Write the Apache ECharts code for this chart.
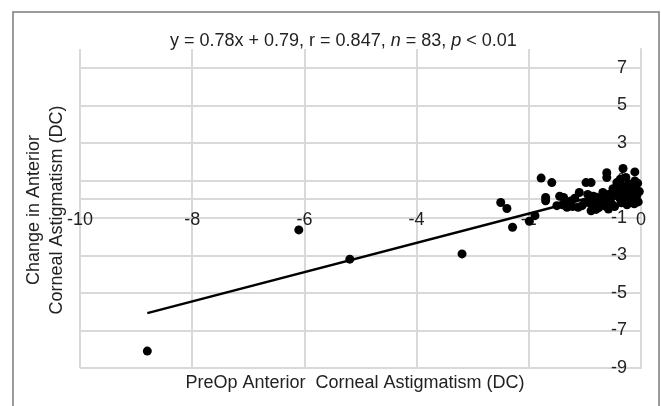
<!DOCTYPE html>
<html>
<head>
<meta charset="utf-8">
<script src="https://cdn.jsdelivr.net/npm/echarts@6/dist/echarts.min.js"></script>
<style>
  html, body { margin: 0; padding: 0; background: #fff; }
  #chart { width: 661px; height: 406px; }
</style>
</head>
<body>
<div id="chart"></div>
<script>
const preOpAstig = [
  -8.8, -6.1, -5.19, -3.19, -2.5, -2.39, -2.29, -1.99, -1.89, -1.78,
  -1.59, -1.7, -1.7, -1.38, -1.33, -1.32, -1.25, -1.22, -1.1, -1.12,
  -0.98, -0.89, -1.0, -0.89, -0.91, -0.85, -0.8, -0.78, -0.75, -0.73,
  -0.7, -0.67, -0.65, -0.62, -0.61, -0.61, -0.58, -0.55, -0.52, -0.49,
  -0.47, -0.45, -0.43, -0.4, -0.38, -0.37, -0.37, -0.35, -0.34, -0.32,
  -0.3, -0.27, -0.26, -0.25, -0.23, -0.2, -0.18, -0.17, -0.15, -0.12,
  -0.11, -0.11, -0.1, -0.08, -0.05, -0.03, -1.5, -1.45, -1.18, -1.05,
  -0.95, -0.92, -0.85, -0.68, -0.58, -0.5, -0.42, -0.28, -0.22, -0.14,
  -0.06, -1.4, -0.8
]
const changeAstig = [
  -8.1, -1.64, -3.2, -2.92, -0.18, -0.5, -1.5, -1.18, -0.88, 1.12,
  0.88, 0.09, -0.09, 0.09, -0.2, -0.44, -0.1, -0.4, 0.35, -0.44,
  0.88, 0.88, -0.18, -0.62, 0.0, -0.3, 0.1, -0.2, -0.45, 0.05,
  -0.3, -0.18, 0.2, -0.4, 1.41, 1.15, -0.53, 0.0, -0.25, 0.18,
  -0.4, 0.45, 0.88, 0.53, 0.1, 0.0, 1.06, -0.2, 0.71, 1.63,
  0.3, 1.15, 0.09, -0.3, 0.35, 0.6, -0.1, 0.0, 0.2, -0.25,
  1.45, 0.97, 0.5, 0.15, -0.15, 0.4, -0.35, 0.15, 0.05, -0.35,
  0.25, -0.2, 0.15, 0.35, 0.25, 0.55, 0.2, -0.1, 0.8, 0.7,
  0.85, -0.3, -0.55
]

// fit reported on the chart
const slope = 0.78
const intercept = 0.79
const rValue = 0.847
const pLabel = '< 0.01'

const xTicks = { min: -10, max: 0, interval: 2 }
const yTicks = { min: -9, max: 8, interval: 2 }

const FONT = 'Liberation Sans, Arial, sans-serif'
const TEXT = '#222'
const GRID = '#d9d9d9'
const GRID_BOX = { left: 80, right: 20, top: 49, bottom: 38 }
const CHART_H = 406

const points = preOpAstig.map((x, i) => [x, changeAstig[i]])
const xMin = Math.min(...preOpAstig)
const xMax = Math.max(...preOpAstig)
const fitLine = [[xMin, slope * xMin + intercept], [xMax, slope * xMax + intercept]]

// x axis crosses at y = 0: shift it up from the grid bottom
const gridH = CHART_H - GRID_BOX.top - GRID_BOX.bottom
const xAxisOffset = -gridH * (0 - yTicks.min) / (yTicks.max - yTicks.min)

const chart = echarts.init(document.getElementById('chart'))

chart.setOption({
  animation: false,
  textStyle: { fontFamily: FONT },
  title: {
    left: 165,
    top: 27,
    text: `{a|y = ${slope}x + ${intercept}, r = ${rValue}, }{i|n}{a| = ${points.length}, }{i|p}{a| ${pLabel}}`,
    textStyle: {
      fontWeight: 'normal',
      rich: {
        a: { fontFamily: FONT, fontSize: 18, color: TEXT, fontWeight: 'normal' },
        i: { fontFamily: FONT, fontSize: 18, color: TEXT, fontWeight: 'normal', fontStyle: 'italic' },
      },
    },
  },
  grid: GRID_BOX,
  xAxis: {
    type: 'value',
    ...xTicks,
    position: 'bottom',
    offset: xAxisOffset,
    axisLine: { onZero: false, lineStyle: { color: GRID, width: 2 } },
    axisTick: { show: false },
    axisLabel: { color: TEXT, fontSize: 18, fontFamily: FONT, margin: 12 },
    splitLine: { show: true, lineStyle: { color: GRID, width: 2 } },
  },
  yAxis: {
    type: 'value',
    ...yTicks,
    position: 'right',
    axisLine: { onZero: false, lineStyle: { color: GRID, width: 2 } },
    axisTick: { show: false },
    axisLabel: {
      inside: true, color: TEXT, fontSize: 18, fontFamily: FONT, margin: 14, showMaxLabel: false,
    },
    splitLine: { show: true, showMaxLine: false, lineStyle: { color: GRID, width: 2 } },
  },
  graphic: [
    {
      type: 'rect',
      shape: { x: 13, y: 12, width: 646, height: 420 },
      style: { fill: 'none', stroke: '#7a7a7a', lineWidth: 1.5 },
      silent: true,
    },
    {
      type: 'text',
      x: 46,
      y: 210,
      rotation: Math.PI / 2,
      style: {
        text: 'Change in Anterior\nCorneal Astigmatism (DC)',
        font: `18px ${FONT}`,
        fill: TEXT,
        align: 'center',
        verticalAlign: 'middle',
        lineHeight: 23,
      },
    },
    {
      type: 'text',
      x: 355,
      y: 383,
      style: {
        text: 'PreOp Anterior  Corneal Astigmatism (DC)',
        font: `18px ${FONT}`,
        fill: TEXT,
        align: 'center',
        verticalAlign: 'middle',
      },
    },
  ],
  series: [
    {
      type: 'scatter',
      data: points,
      symbol: 'circle',
      symbolSize: 9,
      itemStyle: { color: '#000', opacity: 1 },
      z: 3,
    },
    {
      type: 'line',
      data: fitLine,
      symbol: 'none',
      lineStyle: { color: '#000', width: 2.5 },
      z: 4,
    },
  ],
})
</script>
</body>
</html>
